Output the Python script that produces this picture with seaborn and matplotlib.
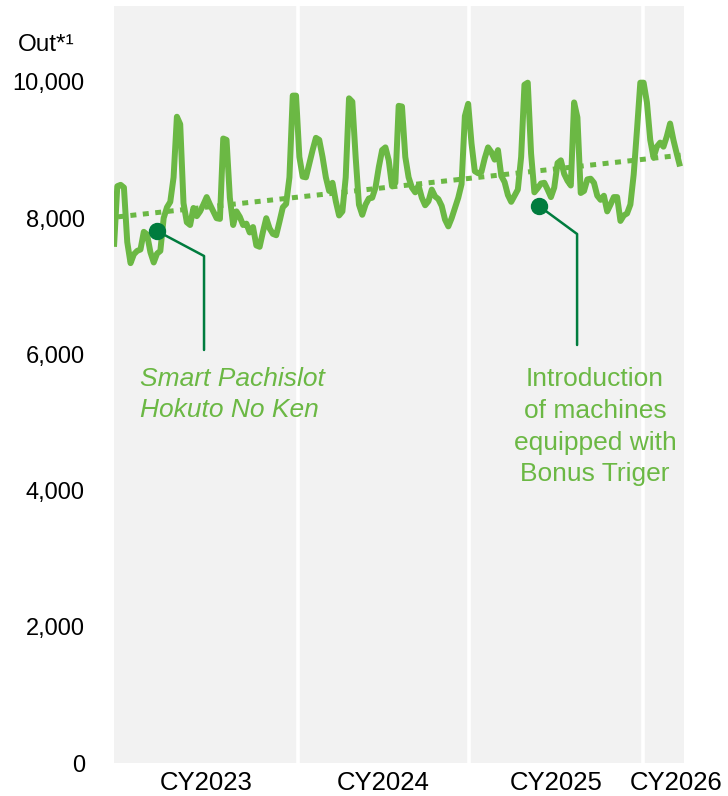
import numpy as np
import pandas as pd
import matplotlib
matplotlib.use("Agg")
import matplotlib.pyplot as plt
import seaborn as sns

# weekly "Out" values (week 0 = first point)
out_values = [
    7580, 8470, 8490, 8450, 7650, 7340, 7470, 7520, 7540, 7800,
    7760, 7500, 7350, 7480, 7520, 8000, 8160, 8240, 8600, 9490,
    9380, 8220, 7940, 7900, 8150, 8030, 8100, 8200, 8310, 8200,
    8100, 8000, 7990, 9170, 9150, 8300, 7900, 8100, 8020, 7900,
    7920, 7790, 7870, 7600, 7580, 7800, 8000, 7850, 7770, 7750,
    7950, 8160, 8210, 8600, 9800, 9800, 8900, 8610, 8600, 8800,
    9000, 9180, 9150, 8900, 8600, 8400, 8520, 8250, 8040, 8100,
    8600, 9760, 9710, 8900, 8200, 8050, 8200, 8290, 8300, 8450,
    8750, 9000, 9040, 8850, 8470, 8520, 9650, 9640, 8900, 8600,
    8450, 8380, 8480, 8300, 8190, 8250, 8420, 8320, 8280, 8180,
    7980, 7880, 8000, 8150, 8300, 8500, 9500, 9680, 9100, 8690,
    8660, 8680, 8880, 9040, 8970, 8860, 9000, 8620, 8530, 8340,
    8240, 8330, 8420, 8900, 9960, 9990, 8950, 8380, 8440, 8510,
    8520, 8420, 8310, 8450, 8810, 8850, 8650, 8550, 8480, 9700,
    9480, 8370, 8400, 8570, 8580, 8520, 8330, 8270, 8330, 8100,
    8200, 8310, 8310, 7960, 8040, 8070, 8200, 8640, 9300, 9990,
    9990, 9700, 9150, 8890, 9050, 9110, 9050, 9200, 9390, 9150,
    8950, 8760,
]
weeks = list(range(len(out_values)))

# calendar years on the x axis (week positions of label centres and year breaks)
year_labels = ["CY2023", "CY2024", "CY2025", "CY2026"]
year_label_weeks = [27.8, 81.4, 133.5, 169.8]
year_breaks = [55.6, 107.3, 159.8]
x_end = 172.2

# trend line end points
trend_weeks = [1.2, 171.2]
trend_values = [8020, 8925]

# call-outs: marker point, elbow, end of leader
event_texts = ["Smart Pachislot\nHokuto No Ken",
               "Introduction\nof machines\nequipped with\nBonus Triger"]
event_weeks = [13.0, 128.4]
event_values = [7812, 8179]
elbow_weeks = [27.2, 139.9]
elbow_values = [7445, 7768]
leader_end_values = [6065, 6138]

y_ticks = [0, 2000, 4000, 6000, 8000, 10000]

LIGHT_GREEN = "#6BB844"
DARK_GREEN = "#007C3E"
BG = "#F2F2F2"

sns.set_style("white")
plt.rcParams["font.family"] = ["Liberation Sans", "DejaVu Sans"]
plt.rcParams["text.color"] = "black"
plt.rcParams["xtick.color"] = "black"
plt.rcParams["ytick.color"] = "black"

fig = plt.figure(figsize=(7.28, 7.96), dpi=100)
ax = fig.add_axes([114 / 728, 1 - 763 / 796, 570 / 728, 757 / 796])
ax.set_facecolor(BG)

df = pd.DataFrame({"week": weeks, "out": out_values})
sns.lineplot(data=df, x="week", y="out", ax=ax, color=LIGHT_GREEN,
             linewidth=4.3, solid_joinstyle="round", solid_capstyle="butt", zorder=3)

trend = pd.DataFrame({"week": trend_weeks, "out": trend_values})
sns.lineplot(data=trend, x="week", y="out", ax=ax, color=LIGHT_GREEN,
             linewidth=3.6, linestyle=(0, (1.2, 1.3)), dash_capstyle="butt", zorder=2)

for b in year_breaks:
    ax.axvline(b, color="white", linewidth=2.6, zorder=1)

for i in range(len(event_texts)):
    ax.plot([event_weeks[i], elbow_weeks[i], elbow_weeks[i]],
            [event_values[i], elbow_values[i], leader_end_values[i]],
            color=DARK_GREEN, linewidth=1.8, zorder=4)
    ax.plot(event_weeks[i], event_values[i], "o", color=DARK_GREEN,
            markersize=11.5, zorder=5)

ax.text(7.9, 5815, event_texts[0], color=LIGHT_GREEN, fontsize=19,
        style="italic", ha="left", va="top", linespacing=1.38)
ax.text(145.3, 5815, event_texts[1], color=LIGHT_GREEN, fontsize=19,
        ha="center", va="top", linespacing=1.41)

ax.set_xlim(0, x_end)
ax.set_ylim(0, 11116)
ax.set_yticks(y_ticks)
ax.set_yticklabels([f"{v:,}" for v in y_ticks])
ax.set_xticks(year_label_weeks)
ax.set_xticklabels(year_labels)
ax.tick_params(axis="y", length=0, pad=21, labelsize=17, labelcolor="black")
ax.tick_params(axis="x", length=0, pad=6, labelsize=18.5, labelcolor="black")
ax.set_xlabel("")
ax.set_ylabel("")
sns.despine(ax=ax, left=True, bottom=True)

fig.text(46 / 728, 1 - 45 / 796, "Out*\u00b9", fontsize=17.5, ha="center", va="center")

plt.savefig("out.png", dpi=100)
plt.close()
